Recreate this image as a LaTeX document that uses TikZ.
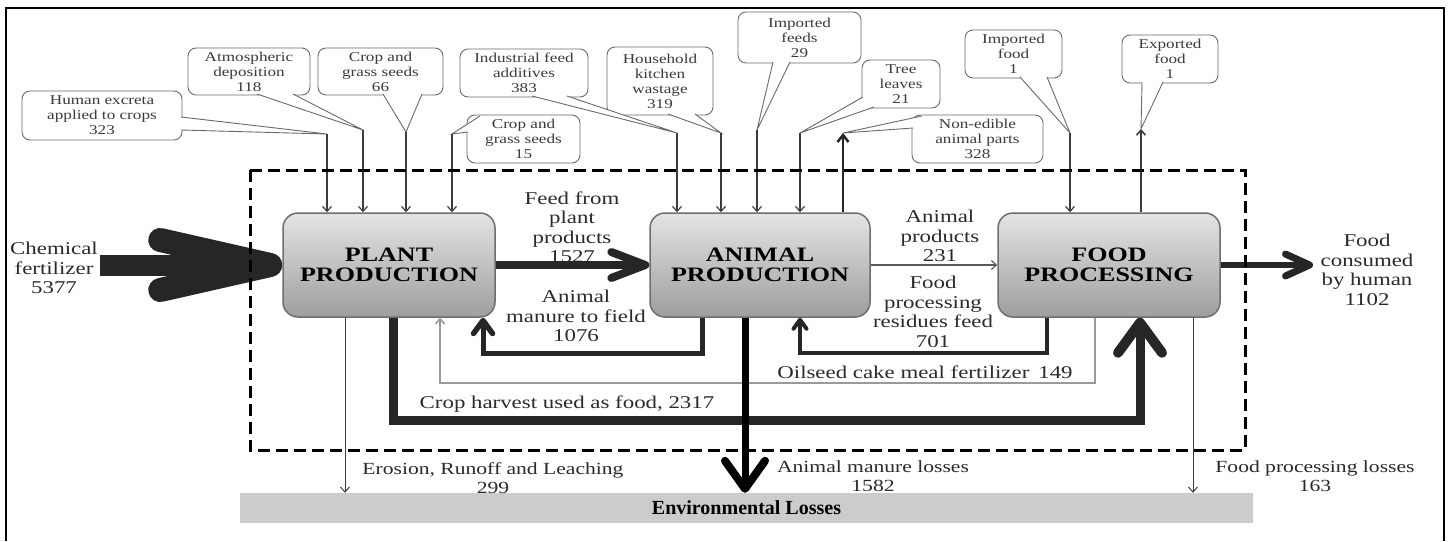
\documentclass[tikz,border=0pt]{standalone}
\usepackage{fontspec}
\setmainfont{Liberation Serif}[FakeStretch=1.27]
\newfontfamily\plainserif{Liberation Serif}
\usetikzlibrary{arrows.meta}
\definecolor{txt}{HTML}{2A2A2A}
\definecolor{ctext}{HTML}{3A3A3A}
\definecolor{cline}{HTML}{6A6A6A}
\definecolor{thinc}{HTML}{3C3C3C}
\definecolor{oilc}{HTML}{9A9A9A}
\definecolor{prodc}{HTML}{5A5A5A}
\definecolor{dark}{HTML}{262626}
\definecolor{boxline}{HTML}{6E6E6E}
\definecolor{boxtop}{HTML}{E4E4E4}
\definecolor{boxbot}{HTML}{9E9E9E}
\definecolor{envgray}{HTML}{CCCCCC}
\newcommand\mytail[3]{\fill[white] (#1) -- (#2) -- (#3) -- cycle; \draw[tailline] (#1) -- (#2) -- (#3);}
\begin{document}
\begin{tikzpicture}[x=1pt,y=-1pt,
 lbl/.style={text=txt, align=center, inner sep=0pt, font=\fontsize{18}{19.5}\selectfont},
 lbls/.style={text=txt, align=center, inner sep=0pt, font=\fontsize{17}{19}\selectfont},
 proc/.style={rounded corners=15pt, draw=boxline, line width=1.5pt, top color=boxtop, bottom color=boxbot,
   minimum width=212pt, minimum height=104pt, align=center, inner sep=0pt,
   font=\bfseries\fontsize{20.5}{20.5}\selectfont, text=black},
 callout/.style={draw=cline, fill=white, rounded corners=8pt, line width=0.9pt, align=center, inner sep=1pt,
   font=\fontsize{13.5}{15}\selectfont, text=ctext},
 tailline/.style={draw=cline, line width=0.9pt},
 thinarr/.style={draw=thinc, line width=1.2pt, -{Straight Barb[length=5pt,width=9pt]}},
 chemarr/.style={draw=dark, line width=21pt, -{Straight Barb[length=110pt,width=50pt,line width=24pt,round]}},
 aA/.style={draw=dark, line width=7.5pt, -{Straight Barb[length=34pt,width=26pt,line width=8pt,round]}},
 aB/.style={draw=dark, line width=5pt, -{Straight Barb[length=13pt,width=19pt,line width=5.5pt,round]}},
 aC/.style={draw=dark, line width=4pt, -{Straight Barb[length=9pt,width=13pt,line width=4pt,round]}},
 aD/.style={draw=dark, line width=9pt, -{Straight Barb[length=30pt,width=44pt,line width=10pt,round]}},
 aE/.style={draw=dark, line width=6.5pt, -{Straight Barb[length=24pt,width=22pt,line width=7pt,round]}},
 aF/.style={draw=black, line width=7pt, -{Straight Barb[length=28pt,width=40pt,line width=8pt,round]}},
 aup/.style={draw=dark, line width=2.5pt, -{Straight Barb[length=7pt,width=11pt,line width=2.5pt]}},
 dashbox/.style={draw=black, line width=3pt, dash pattern=on 12pt off 6pt}
]
\useasboundingbox (0,0) rectangle (1450,541);
\draw[line width=2.4pt] (6,541) -- (6,8) -- (1444,8) -- (1444,541);

% process boxes
\node[proc] (plant) at (389,265) {PLANT\\PRODUCTION};
\node[proc, minimum width=220pt] (animal) at (760,265) {ANIMAL\\PRODUCTION};
\node[proc, minimum width=222pt] (food) at (1109,265) {FOOD\\PROCESSING};

% environmental losses bar
\node[fill=envgray, minimum width=1013pt, minimum height=30pt, inner sep=0pt, text=black] (env) at (746.5,508)
  {\plainserif\bfseries\fontsize{20}{22}\selectfont Environmental Losses};

% labels
\node[lbl] (chemlab) at (54,268) {Chemical\\fertilizer\\5377};
\node[lbl] (feedlab) at (572,227) {Feed from\\plant\\products\\1527};
\node[lbl] (manlab) at (576,316) {Animal\\manure to field\\1076};
\node[lbl] (prodlab) at (940,236) {Animal\\products\\231};
\node[lbl] (reslab) at (933,312) {Food\\processing\\residues feed\\701};
\node[lbl] (oillab) at (925,372) {Oilseed cake meal fertilizer\enspace 149};
\node[lbl] (croplab) at (567,404) {Crop harvest used as food, 2317};
\node[lbl] (conslab) at (1367,270) {Food\\consumed\\by human\\1102};
\node[lbls] (erolab) at (493,478) {Erosion, Runoff and Leaching\\299};
\node[lbls] (amllab) at (873,476) {Animal manure losses\\1582};
\node[lbls] (fpllab) at (1315,476) {Food processing losses\\163};

% callouts
\node[callout, minimum width=160pt, minimum height=49pt] (c1) at (102,115.5) {Human excreta\\applied to crops\\323};
\node[callout, minimum width=122pt, minimum height=47pt] (c2) at (249,71.5) {Atmospheric\\deposition\\118};
\node[callout, minimum width=125pt, minimum height=47pt] (c3) at (380.5,71.5) {Crop and\\grass seeds\\66};
\node[callout, minimum width=113pt, minimum height=48pt] (c4) at (523.5,139) {Crop and\\grass seeds\\15};
\node[callout, minimum width=128pt, minimum height=48pt] (c5) at (524,73) {Industrial feed\\additives\\383};
\node[callout, minimum width=106pt, minimum height=68pt] (c6) at (660,81) {Household\\kitchen\\wastage\\319};
\node[callout, minimum width=123pt, minimum height=51pt] (c7) at (799.5,37.5) {Imported\\feeds\\29};
\node[callout, minimum width=78pt, minimum height=48pt] (c8) at (901,84) {Tree\\leaves\\21};
\node[callout, minimum width=131pt, minimum height=48pt] (c9) at (977.5,139) {Non-edible\\animal parts\\328};
\node[callout, minimum width=97pt, minimum height=48pt] (c10) at (1013.5,54) {Imported\\food\\1};
\node[callout, minimum width=96pt, minimum height=48pt] (c11) at (1170,59) {Exported\\food\\1};

\coordinate (t1) at (327,134);
\coordinate (t2) at (363,130);
\coordinate (t3) at (406,132);
\coordinate (t4) at (452,134);
\coordinate (t5) at (677,133);
\coordinate (t6) at (721,133);
\coordinate (t7) at (757,130);
\coordinate (t8) at (800,133);
\coordinate (t9) at (843,133);
\coordinate (t10) at (1070,133);
\coordinate (t11) at (1141,129);

\mytail{181,117}{t1}{181,130}
\mytail{257,94}{t2}{293,94}
\mytail{383,94}{t3}{422,94}
\mytail{480,116}{t4}{468,132}
\mytail{532,96}{t5}{567,96}
\mytail{668,114}{t6}{695,114}
\mytail{773,62}{t7}{790,62}
\mytail{863,97}{t8}{874,107}
\mytail{922,116}{t9}{913,128}
\mytail{1020,77}{t10}{1047,77}
\mytail{1142,82}{t11}{1163,82}

% inputs from callouts
\draw[thinarr] (t1) -- (t1 |- plant.north);
\draw[thinarr] (t2) -- (t2 |- plant.north);
\draw[thinarr] (t3) -- (t3 |- plant.north);
\draw[thinarr] (t4) -- (t4 |- plant.north);
\draw[thinarr] (t5) -- (t5 |- animal.north);
\draw[thinarr] (t6) -- (t6 |- animal.north);
\draw[thinarr] (t7) -- (t7 |- animal.north);
\draw[thinarr] (t8) -- (t8 |- animal.north);
\draw[thinarr] (t10) -- (t10 |- food.north);
% outputs to callouts
\draw[aup] (t9 |- animal.north) -- (t9);
\draw[thinarr, line width=1.6pt] (t11 |- food.north) -- (t11);

% main flows
\coordinate (chemtail) at (100,265);
\draw[chemarr] (chemtail) -- (plant.west);
\draw[aA] (plant.east) -- (animal.west);
\draw[thinarr, draw=prodc] (animal.east) -- (food.west);
\coordinate (consend) at (1313,265);
\draw[aE] (food.east) -- (consend);

\draw[thinarr, draw=oilc, line width=1.6pt] (1095,0 |- food.south) -- (1095,383) -- (440,383) -- (440,0 |- plant.south);
\draw[aD] (393,0 |- plant.south) -- (393,420) -- (1140,420) -- (1140,0 |- food.south);
\draw[aB] (702,0 |- animal.south) -- (702,353) -- (483,353) -- (483,0 |- plant.south);
\draw[aC] (1047,0 |- food.south) -- (1047,353) -- (800,353) -- (800,0 |- animal.south);

% losses
\draw[thinarr, line width=1pt] (345,0 |- plant.south) -- (345,0 |- env.north);
\draw[thinarr, line width=1pt] (1193,0 |- food.south) -- (1193,0 |- env.north);
\draw[aF] (745,0 |- animal.south) -- (745,0 |- env.north);

% system boundary
\draw[dashbox] (250,170) rectangle (1245,450);
\end{tikzpicture}
\end{document}
